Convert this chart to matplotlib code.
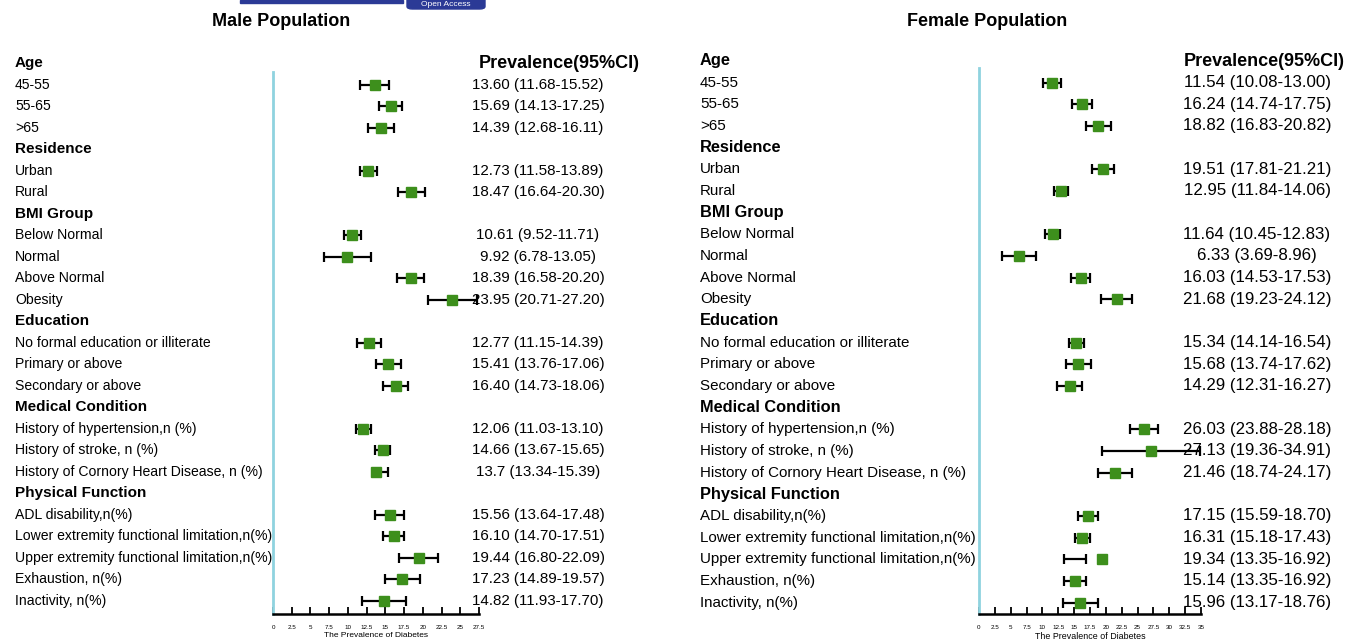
import numpy as np
import matplotlib.pyplot as plt
from matplotlib import transforms
from matplotlib.patches import Rectangle, FancyBboxPatch

plt.rcParams['font.family'] = ['Liberation Sans', 'DejaVu Sans']

# 分组和条目
groups = ['Age', 'Residence', 'BMI Group', 'Education', 'Medical Condition', 'Physical Function']
items = [
    ['45-55', '55-65', '>65'],
    ['Urban', 'Rural'],
    ['Below Normal', 'Normal', 'Above Normal', 'Obesity'],
    ['No formal education or illiterate', 'Primary or above', 'Secondary or above'],
    ['History of hypertension,n (%)', 'History of stroke, n (%)',
     'History of Cornory Heart Disease, n (%)'],
    ['ADL disability,n(%)', 'Lower extremity functional limitation,n(%)',
     'Upper extremity functional limitation,n(%)', 'Exhaustion, n(%)', 'Inactivity, n(%)'],
]

# 男性数据
male_est = [13.60, 15.69, 14.39, 12.73, 18.47, 10.61, 9.92, 18.39, 23.95,
            12.77, 15.41, 16.40, 12.06, 14.66, 13.7, 15.56, 16.10, 19.44, 17.23, 14.82]
male_lo = [11.68, 14.13, 12.68, 11.58, 16.64, 9.52, 6.78, 16.58, 20.71,
           11.15, 13.76, 14.73, 11.03, 13.67, 13.34, 13.64, 14.70, 16.80, 14.89, 11.93]
male_hi = [15.52, 17.25, 16.11, 13.89, 20.30, 11.71, 13.05, 20.20, 27.20,
           14.39, 17.06, 18.06, 13.10, 15.65, 15.39, 17.48, 17.51, 22.09, 19.57, 17.70]
male_text = ['13.60 (11.68-15.52)', '15.69 (14.13-17.25)', '14.39 (12.68-16.11)',
             '12.73 (11.58-13.89)', '18.47 (16.64-20.30)',
             '10.61 (9.52-11.71)', '9.92 (6.78-13.05)', '18.39 (16.58-20.20)', '23.95 (20.71-27.20)',
             '12.77 (11.15-14.39)', '15.41 (13.76-17.06)', '16.40 (14.73-18.06)',
             '12.06 (11.03-13.10)', '14.66 (13.67-15.65)', '13.7 (13.34-15.39)',
             '15.56 (13.64-17.48)', '16.10 (14.70-17.51)', '19.44 (16.80-22.09)',
             '17.23 (14.89-19.57)', '14.82 (11.93-17.70)']

# 女性数据
female_est = [11.54, 16.24, 18.82, 19.51, 12.95, 11.64, 6.33, 16.03, 21.68,
              15.34, 15.68, 14.29, 26.03, 27.13, 21.46, 17.15, 16.31, 19.34, 15.14, 15.96]
female_lo = [10.08, 14.74, 16.83, 17.81, 11.84, 10.45, 3.69, 14.53, 19.23,
             14.14, 13.74, 12.31, 23.88, 19.36, 18.74, 15.59, 15.18, 13.35, 13.35, 13.17]
female_hi = [13.00, 17.75, 20.82, 21.21, 14.06, 12.83, 8.96, 17.53, 24.12,
             16.54, 17.62, 16.27, 28.18, 34.91, 24.17, 18.70, 17.43, 16.92, 16.92, 18.76]
female_text = ['11.54 (10.08-13.00)', '16.24 (14.74-17.75)', '18.82 (16.83-20.82)',
               '19.51 (17.81-21.21)', '12.95 (11.84-14.06)',
               '11.64 (10.45-12.83)', '6.33 (3.69-8.96)', '16.03 (14.53-17.53)', '21.68 (19.23-24.12)',
               '15.34 (14.14-16.54)', '15.68 (13.74-17.62)', '14.29 (12.31-16.27)',
               '26.03 (23.88-28.18)', '27.13 (19.36-34.91)', '21.46 (18.74-24.17)',
               '17.15 (15.59-18.70)', '16.31 (15.18-17.43)', '19.34 (13.35-16.92)',
               '15.14 (13.35-16.92)', '15.96 (13.17-18.76)']

male_ticks = np.arange(0, 27.6, 2.5)
female_ticks = np.arange(0, 35.1, 2.5)

W, H = 1348, 642
fig = plt.figure(figsize=(W / 100, H / 100), dpi=100)

green = '#3d8f1c'
blue_line = '#8fd3df'


def tick_str(v):
    return ('%g' % v)


def panel(title, est, lo, hi, text, ticks, ax_px, row0, step, lab_x, val_x, head_right,
          title_x, fs_lab, fs_val, fs_head, fs_tick, fs_xl):
    # ax_px = (left, right, top, bottom) 像素位置
    l, r, t, b = ax_px
    ax = fig.add_axes([l / W, 1 - b / H, (r - l) / W, (b - t) / H])
    ax.set_xlim(ticks[0], ticks[-1])
    ax.set_ylim((b - row0) / step, (t - row0) / step)

    # 行号
    head_rows, item_rows = [], []
    k = 0
    for g, it in zip(groups, items):
        head_rows.append(k)
        k += 1
        for _ in it:
            item_rows.append(k)
            k += 1
    item_rows = np.array(item_rows)
    est, lo, hi = np.array(est), np.array(lo), np.array(hi)

    ax.hlines(item_rows, lo, hi, color='black', lw=1.6, zorder=2)
    ax.plot(lo, item_rows, ls='none', marker='|', ms=7, mew=1.6, color='black', zorder=2)
    ax.plot(hi, item_rows, ls='none', marker='|', ms=7, mew=1.6, color='black', zorder=2)
    ax.plot(est, item_rows, ls='none', marker='s', ms=7.3, color=green, zorder=3)

    tr = transforms.blended_transform_factory(fig.transFigure, ax.transData)
    for g, rr in zip(groups, head_rows):
        ax.text(lab_x / W, rr, g, transform=tr, fontsize=fs_head, fontweight='bold',
                va='center', ha='left', clip_on=False)
    labels = [s for it in items for s in it]
    for s, rr, v in zip(labels, item_rows, text):
        ax.text(lab_x / W, rr, s, transform=tr, fontsize=fs_lab, va='center', ha='left',
                clip_on=False)
        ax.text(val_x / W, rr, v, transform=tr, fontsize=fs_val, va='center', ha='center',
                clip_on=False)
    ax.text(head_right / W, 0, 'Prevalence(95%CI)', transform=tr, fontsize=13,
            fontweight='bold', va='center', ha='right', clip_on=False)
    fig.text(title_x / W, 1 - 22 / H, title, fontsize=13, fontweight='bold',
             ha='center', va='center')

    for s in ['top', 'right']:
        ax.spines[s].set_visible(False)
    ax.spines['left'].set_color(blue_line)
    ax.spines['left'].set_linewidth(2)
    ax.spines['bottom'].set_linewidth(1.8)
    ax.set_yticks([])
    ax.set_xticks(ticks)
    ax.set_xticklabels([tick_str(v) for v in ticks], fontsize=fs_tick)
    ax.tick_params(axis='x', direction='in', length=5, width=1.3, pad=8)
    ax.set_xlabel('The Prevalence of Diabetes', fontsize=fs_xl, labelpad=1.5)
    return ax


panel('Male Population', male_est, male_lo, male_hi, male_text, male_ticks,
      (273, 479, 72, 614), 63, 21.52, 15, 538, 640, 281, 10.1, 10.9, 11, 4.5, 6)
panel('Female Population', female_est, female_lo, female_hi, female_text, female_ticks,
      (979, 1201, 68, 614), 61, 21.66, 700, 1257, 1345, 987, 10.9, 12.2, 11.8, 4.5, 6.4)

# 顶部的 Open Access 标记
fig.patches.append(Rectangle((240 / W, 1 - 3 / H), 163 / W, 3 / H,
                             transform=fig.transFigure, color='#2b3a96'))
fig.patches.append(FancyBboxPatch((407 / W, 1 - 9 / H), 78 / W, 15 / H,
                                  boxstyle='round,pad=0,rounding_size=0.004',
                                  transform=fig.transFigure, color='#2b3a96'))
fig.text(446 / W, 1 - 4.5 / H, 'Open Access', fontsize=6, color='white',
         ha='center', va='center')

fig.savefig('out.png', dpi=100)
